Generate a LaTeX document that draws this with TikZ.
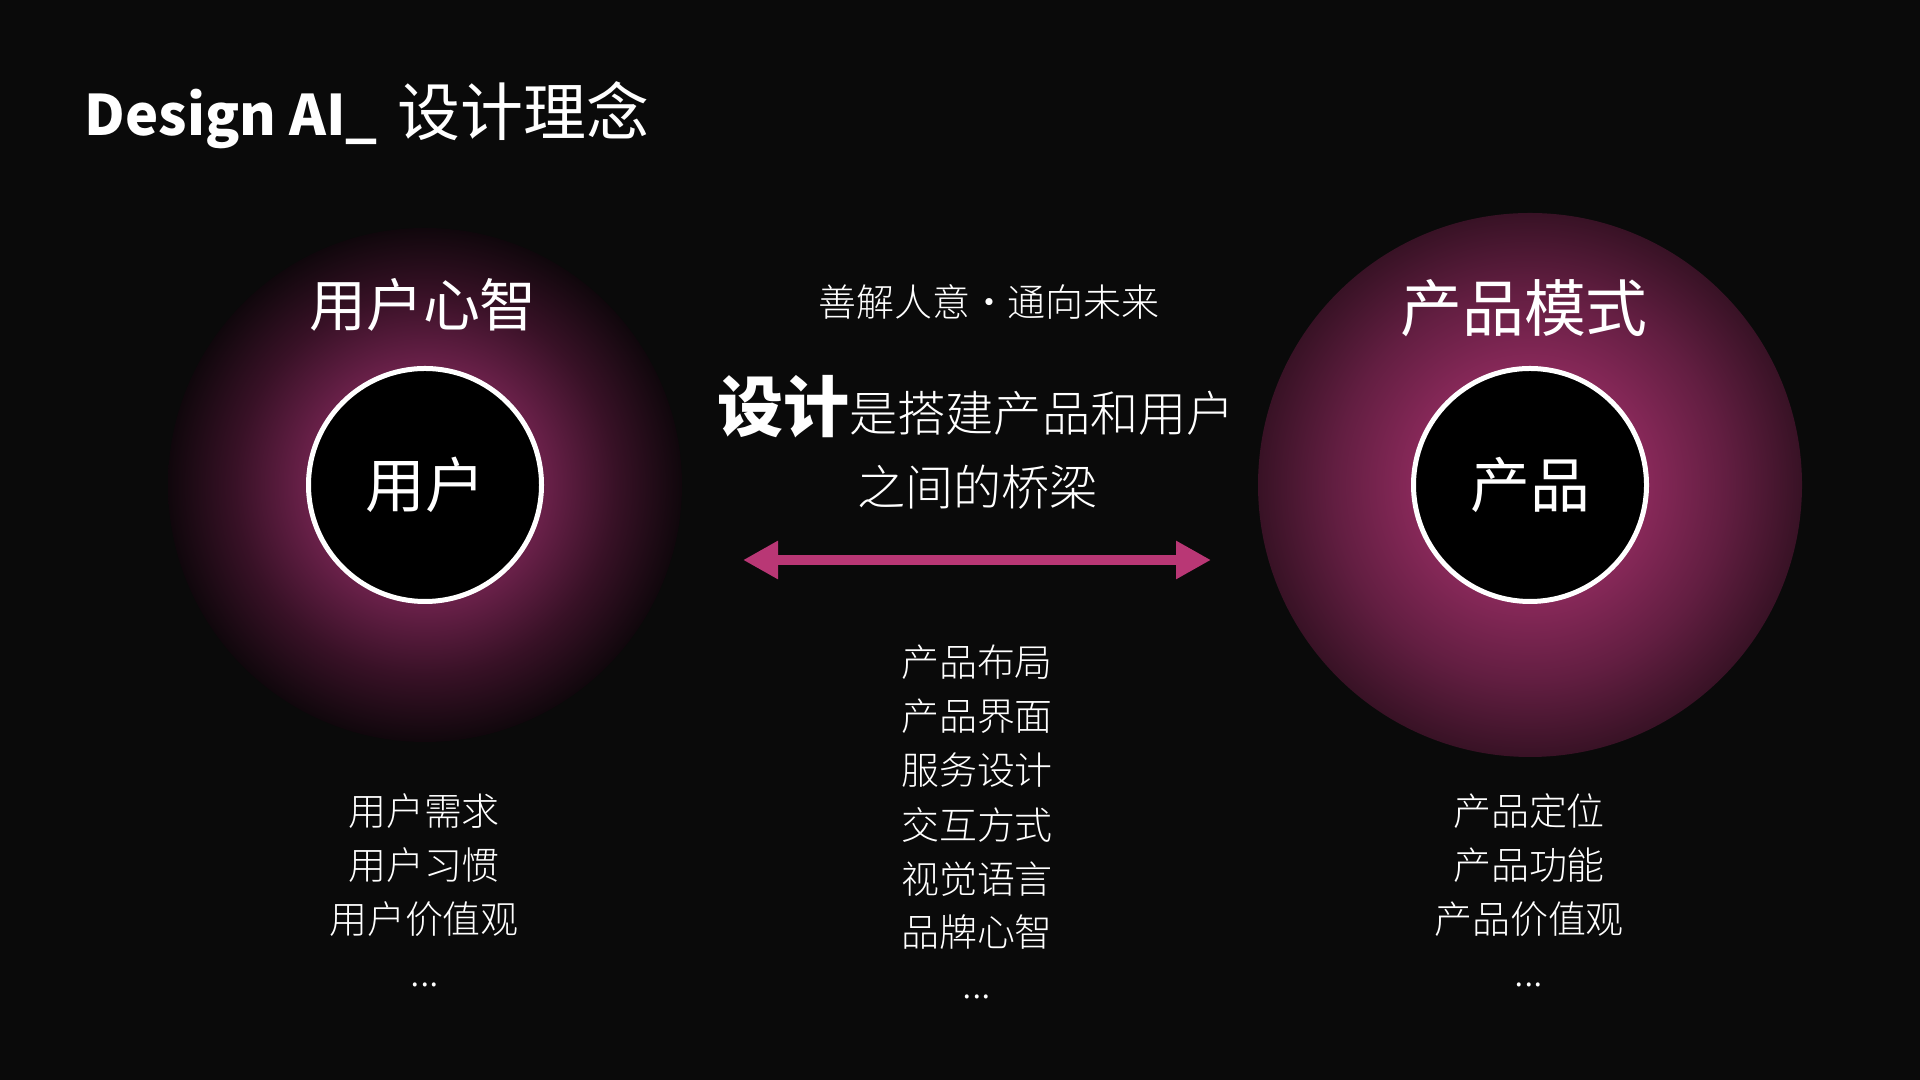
\documentclass[tikz,border=0pt]{standalone}
\usepackage{fontspec}
\setmainfont{Noto Sans CJK SC}
\newfontfamily\cjklight{Noto Sans CJK SC Light}
\usepackage{tikz}
\usetikzlibrary{arrows.meta}
\definecolor{bgdark}{RGB}{10,10,10}
\definecolor{bridgepink}{RGB}{185,55,117}
\definecolor{userpeak}{RGB}{104,32,72}
\definecolor{usermid}{RGB}{56,17,38}
\definecolor{useredge}{RGB}{16,7,12}
\definecolor{prodpeak}{RGB}{134,40,88}
\definecolor{prodmid}{RGB}{98,30,65}
\definecolor{prodedge}{RGB}{56,18,37}
% the path is mapped on the middle 50bp square, so its rim sits at 25bp
\pgfdeclareradialshading{userglow}{\pgfpointorigin}{color(0bp)=(userpeak);color(11.8bp)=(userpeak);color(18.5bp)=(usermid);color(25bp)=(useredge);color(50bp)=(useredge)}
\pgfdeclareradialshading{prodglow}{\pgfpointorigin}{color(0bp)=(prodpeak);color(11bp)=(prodpeak);color(18bp)=(prodmid);color(25bp)=(prodedge);color(50bp)=(prodedge)}
\newcommand{\fsz}[1]{\fontsize{#1pt}{#1pt}\selectfont}

\begin{document}
\begin{tikzpicture}[every node/.style={text=white,inner sep=0pt},
		glowdisc/.style={circle,minimum size=#1},
		innerdisc/.style={circle,draw=white,line width=0.5mm,fill=black,minimum size=23.3mm,font=\fsz{17}},
		listtext/.style={font=\cjklight\fsz{10.8}}]
				\useasboundingbox (0,0) rectangle (192mm,108mm);
				\fill[bgdark] (0,0) rectangle (192mm,108mm);
				 %\draw[color=gray,step=1mm, help lines,opacity=0.3] (0pt,0pt) grid (192mm,108mm); %help grids
				\node[anchor=base west] (title) at (8.4mm,94.4mm) {{\bfseries\fsz{15.9}Design AI\_}\hspace{2mm}{\fsz{17.9}设计理念}};
				% the two glows
				\node[glowdisc=51.4mm,shading=userglow] (userglow) at (42.5mm,59.5mm) {};
				\node[glowdisc=54.4mm,shading=prodglow] (prodglow) at (153mm,59.5mm) {};
				\node[font=\fsz{16.2}] (usermind) at (42.3mm,77.5mm) {用户心智};
				\node[font=\fsz{17.6}] (prodmode) at (152.4mm,77.2mm) {产品模式};
				\node[innerdisc] (user) at (42.5mm,59.5mm) {用户};
				\node[innerdisc] (prod) at (153mm,59.5mm) {产品};
				% middle
				\node[font=\cjklight\fsz{10.8}] (motto) at (98.9mm,77.8mm) {善解人意·通向未来};
				\node (bridge1) at (97.6mm,67.35mm) {{\bfseries\fsz{18.8}设计}{\cjklight\fsz{13.7}是搭建产品和用户}};
				\node[font=\cjklight\fsz{13.7}] (bridge2) at (97.75mm,59.3mm) {之间的桥梁};
				\coordinate (bridgeL) at (74.3mm,52mm);
				\coordinate (bridgeR) at (121.1mm,52mm);
				\draw[bridgepink,line width=1mm,{Triangle[length=3.5mm,width=3.6mm]}-{Triangle[length=3.5mm,width=3.6mm]}] (bridgeL)--(bridgeR);
				\node[listtext] (layout) at (97.7mm,41.8mm) {产品布局};
				\node[listtext] (ui) at (97.7mm,36.4mm) {产品界面};
				\node[listtext] (service) at (97.7mm,31.0mm) {服务设计};
				\node[listtext] (interact) at (97.7mm,25.5mm) {交互方式};
				\node[listtext] (visual) at (97.7mm,20.1mm) {视觉语言};
				\node[listtext] (brand) at (97.7mm,14.8mm) {品牌心智};
				\node[listtext] (moremid) at (97.7mm,8.3mm) {...};
				% left list
				\node[listtext] (need) at (42.4mm,26.9mm) {用户需求};
				\node[listtext] (habit) at (42.4mm,21.5mm) {用户习惯};
				\node[listtext] (uservalue) at (42.4mm,16.1mm) {用户价值观};
				\node[listtext] (moreleft) at (42.5mm,9.5mm) {...};
				% right list
				\node[listtext] (position) at (152.9mm,26.9mm) {产品定位};
				\node[listtext] (function) at (152.9mm,21.5mm) {产品功能};
				\node[listtext] (prodvalue) at (152.9mm,16.1mm) {产品价值观};
				\node[listtext] (moreright) at (152.9mm,9.5mm) {...};
\end{tikzpicture}
\end{document}
